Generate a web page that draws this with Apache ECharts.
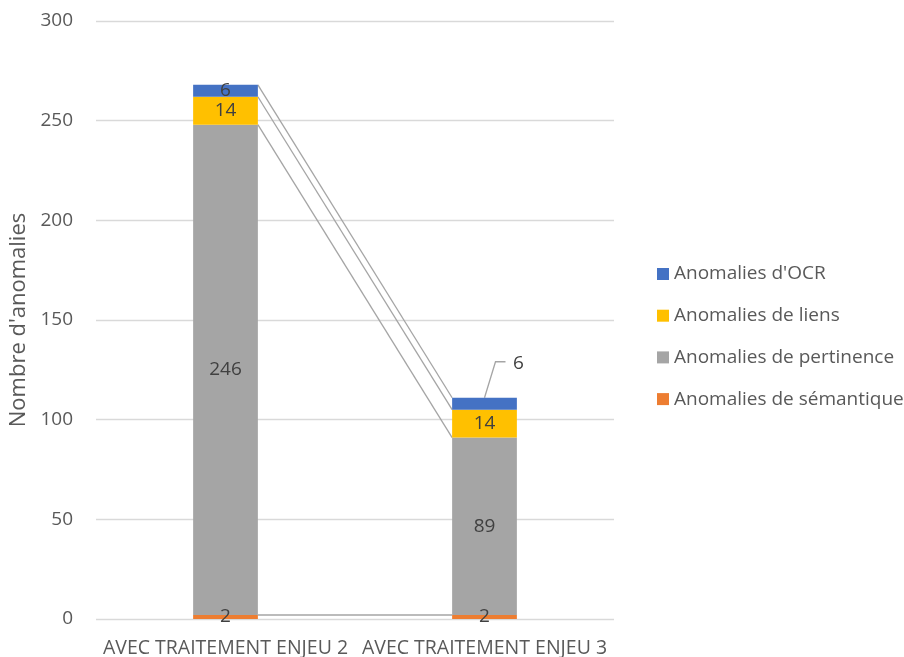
<!DOCTYPE html>
<html>
<head>
<meta charset="utf-8">
<script src="https://cdn.jsdelivr.net/npm/echarts@6/dist/echarts.min.js"></script>
<style>
  html, body { margin: 0; padding: 0; background: #fff; }
  #chart { width: 904px; height: 657px; }
</style>
</head>
<body>
<div id="chart"></div>
<script>
// Categories and stacked series values (bottom to top)
const categories = ['AVEC TRAITEMENT ENJEU 2', 'AVEC TRAITEMENT ENJEU 3'];
const semantique = [2, 2];
const pertinence = [246, 89];
const liens = [14, 14];
const ocr = [6, 6];
const yTicks = { min: 0, max: 300, interval: 50 };

const FONT = '"Open Sans", sans-serif';
const TEXT = '#595959';
const LABEL = '#404040';
const BAR_RATIO = 0.25;

const stackOrder = [
  { name: 'Anomalies de sémantique', data: semantique, color: '#ED7D31' },
  { name: 'Anomalies de pertinence', data: pertinence, color: '#A5A5A5' },
  { name: 'Anomalies de liens', data: liens, color: '#FFC000' },
  { name: "Anomalies d'OCR", data: ocr, color: '#4472C4' }
];

// Cumulative top of each stacked segment, per category (for the series lines)
const tops = [];
{
  const acc = categories.map(() => 0);
  stackOrder.forEach(s => {
    const row = s.data.map((v, i) => (acc[i] += v));
    tops.push(row);
  });
}
const lastTop = tops[tops.length - 1];

const barSeries = stackOrder.map((s, k) => {
  const isTop = k === stackOrder.length - 1;
  return {
    name: s.name,
    type: 'bar',
    stack: 'total',
    barWidth: (BAR_RATIO * 100) + '%',
    itemStyle: { color: s.color },
    z: 3,
    label: {
      show: true,
      position: 'inside',
      color: LABEL,
      fontFamily: FONT,
      fontSize: 19
    },
    data: s.data.map((v, i) => {
      // The thin top segment of the second column gets an outside label with a leader
      if (isTop && i === 1) {
        return { value: v, label: { position: 'top', distance: 5, offset: [34, -20] } };
      }
      return v;
    })
  };
});

// Series lines joining segment tops between the two columns, plus the label leader
const connectorSeries = {
  type: 'custom',
  silent: true,
  z: 2,
  data: tops.map(row => row.slice()),
  encode: { x: -1, y: -1 },
  renderItem: function (params, api) {
    const v0 = api.value(0), v1 = api.value(1);
    const band = api.size([1, 0])[0];
    const half = band * BAR_RATIO / 2;
    const p0 = api.coord([0, v0]);
    const p1 = api.coord([1, v1]);
    const children = [{
      type: 'line',
      shape: { x1: p0[0] + half, y1: p0[1], x2: p1[0] - half, y2: p1[1] },
      style: { stroke: '#A5A5A5', lineWidth: 1.3 }
    }];
    if (params.dataIndex === tops.length - 1) {
      const t = api.coord([1, lastTop[1]]);
      children.push({
        type: 'polyline',
        shape: { points: [[t[0], t[1]], [t[0] + 11, t[1] - 36], [t[0] + 21, t[1] - 36]] },
        style: { stroke: '#A5A5A5', lineWidth: 1.3, fill: null }
      });
    }
    return { type: 'group', children: children };
  }
};

const chart = echarts.init(document.getElementById('chart'), null, { renderer: 'canvas' });
chart.setOption({
  animation: false,
  backgroundColor: '#ffffff',
  grid: { left: 96, right: 290, top: 21, bottom: 38, containLabel: false, outerBoundsMode: 'none' },
  legend: {
    orient: 'vertical',
    left: 652,
    top: 259,
    itemWidth: 12,
    itemHeight: 12,
    itemGap: 21.7,
    icon: 'rect',
    data: ["Anomalies d'OCR", 'Anomalies de liens', 'Anomalies de pertinence', 'Anomalies de sémantique'],
    textStyle: { color: TEXT, fontFamily: FONT, fontSize: 19, height: 20, lineHeight: 20 }
  },
  xAxis: {
    type: 'category',
    data: categories,
    axisLine: { show: false },
    axisTick: { show: false },
    axisLabel: { color: TEXT, fontFamily: FONT, fontSize: 19.5, margin: 19, interval: 0 }
  },
  yAxis: {
    type: 'value',
    min: yTicks.min,
    max: yTicks.max,
    interval: yTicks.interval,
    name: "Nombre d'anomalies",
    nameLocation: 'middle',
    nameGap: 62,
    nameTextStyle: { color: TEXT, fontFamily: FONT, fontSize: 22 },
    axisLine: { show: false },
    axisTick: { show: false },
    axisLabel: { color: TEXT, fontFamily: FONT, fontSize: 19, margin: 23 },
    splitLine: { lineStyle: { color: '#D9D9D9', width: 1.3 } }
  },
  series: barSeries.concat([connectorSeries])
});
</script>
</body>
</html>
